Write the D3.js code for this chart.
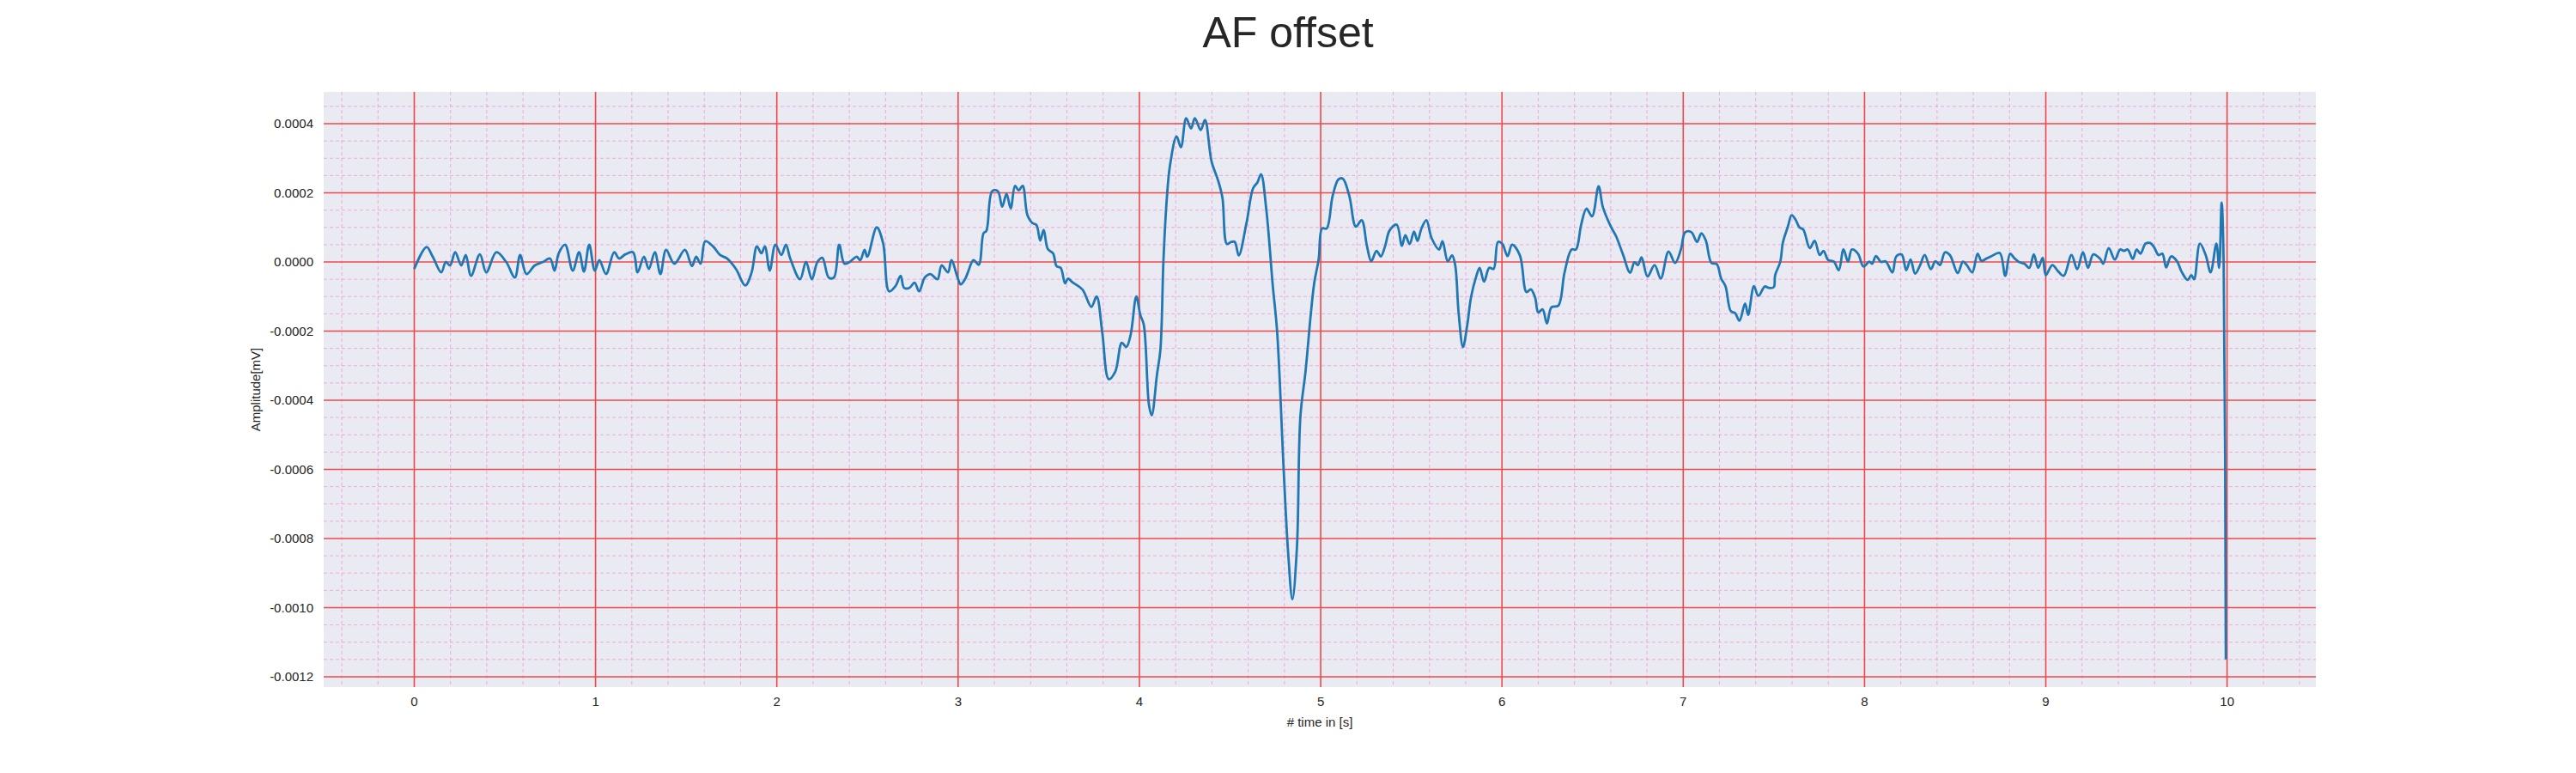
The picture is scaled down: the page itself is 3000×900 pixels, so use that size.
<!DOCTYPE html>
<html><head><meta charset="utf-8">
<script src="https://cdn.jsdelivr.net/npm/d3@7"></script>
<style>body{margin:0;background:#fff}svg{display:block}</style>
</head><body>
<script>
// data in units of 1e-4 mV
const times = [0,.068,.101,.149,.174,.197,.226,.259,.284,.313,.362,.397,.453,.507,.555,.584,.619,.665,.710,.749,.774,.797,.832,.874,.909,.936,.965,.996,1.021,1.058,1.103,1.130,1.164,1.207,1.232,1.267,1.294,1.327,1.358,1.389,1.435,1.493,1.532,1.555,1.580,1.605,1.648,1.687,1.725,1.774,1.826,1.861,1.890,1.915,1.934,1.961,1.992,2.025,2.050,2.074,2.128,2.161,2.193,2.224,2.251,2.286,2.315,2.344,2.373,2.402,2.441,2.460,2.484,2.499,2.551,2.586,2.619,2.654,2.683,2.702,2.731,2.760,2.785,2.816,2.847,2.886,2.909,2.944,2.963,
3.000,3.014,3.038,3.054,3.085,3.114,3.140,3.156,3.188,3.219,3.243,3.267,3.290,3.314,3.334,3.356,3.382,3.409,3.432,3.453,3.472,3.495,3.524,3.543,3.566,3.590,3.606,3.629,
3.686,3.735,3.764,3.795,3.831,3.867,3.903,3.928,3.952,3.983,4.005,4.024,4.053,4.068,4.097,4.116,4.133,4.150,4.169,4.205,4.229,4.258,4.285,4.306,4.338,4.362,4.398,4.434,4.458,4.483,4.507,4.526,4.548,4.591,4.627,4.651,4.671,4.700,4.736,4.760,4.796,4.820,4.844,4.869,4.888,4.917,4.946,4.965,4.989,5.008,5.033,5.066,5.098,5.122,5.158,5.194,5.226,5.255,5.279,5.308,5.332,5.356,5.380,5.419,5.448,5.467,5.491,5.515,5.534,5.556,5.583,5.612,5.653,5.672,5.701,5.725,5.742,5.761,5.785,5.809,5.829,5.858,5.877,5.901,5.930,5.954,5.978,6.002,6.031,6.056,6.099,6.135,6.159,6.183,6.200,6.224,6.248,6.273,6.311,6.345,6.384,6.408,6.437,6.466,6.497,6.533,6.557,6.601,6.630,6.666,6.707,6.731,6.750,6.770,6.803,6.842,6.876,6.919,6.955,6.987,7.011,7.045,7.076,7.100,7.124,7.156,7.185,7.209,7.233,7.262,7.286,7.310,7.341,7.358,7.390,7.414,
7.450,7.471,7.499,7.507,7.535,7.550,7.577,7.598,7.619,7.641,7.662,7.698,7.725,7.753,7.774,7.799,7.831,7.858,7.884,7.909,7.930,7.964,7.994,8.027,8.042,8.063,8.091,8.116,8.154,8.175,8.205,8.230,8.254,8.279,8.307,8.332,8.366,8.391,8.416,8.444,8.471,8.514,8.543,8.564,8.594,8.624,8.645,8.670,8.698,8.746,8.776,8.803,8.825,8.852,8.882,8.909,8.934,8.958,8.983,9.000,9.036,9.068,9.099,9.142,9.173,9.205,9.233,9.262,9.300,9.317,9.347,9.381,9.410,9.431,9.452,9.480,9.501,9.522,9.550,9.575,9.596,9.622,9.643,9.664,9.691,9.723,9.748,9.782,9.803,9.818,9.850,9.882,9.909,9.941,9.956,9.970,9.981,9.993];
const values = [-0.2,0.43,0.16,-0.3,0,-0.1,0.28,-0.1,0.2,-0.4,0.22,-0.3,0.28,0,-0.45,0.2,-0.35,-0.1,0,0.1,-0.25,0.25,0.5,-0.25,0.28,-0.28,0.5,-0.25,0.05,-0.35,0.28,0.1,0.22,0.28,-0.3,0.15,-0.2,0.28,-0.35,0.35,-0.05,0.35,-0.12,0.15,-0.05,0.6,0.45,0.2,0.1,-0.2,-0.68,-0.3,0.45,0.25,0.45,-0.25,0.5,0.2,0.5,0.1,-0.5,0,-0.5,0,0.12,-0.45,-0.45,0.5,-0.05,0,0.15,0.05,0.35,0.15,1.0,0.55,-0.85,-0.7,-0.4,-0.75,-0.75,-0.6,-0.85,-0.45,-0.35,-0.5,-0.1,-0.3,0.05,
-0.5,-0.65,-0.5,-0.3,0.05,-0.08,0.83,0.9,2.05,2.05,1.6,1.97,1.55,2.2,2.07,2.2,1.36,1.13,1.07,0.62,0.93,0.37,0.25,-0.12,-0.17,-0.62,-0.48,-0.58,
-0.8,-1.3,-1.0,-2.03,-3.39,-3.17,-2.34,-2.46,-2.1,-1.0,-1.53,-1.81,-4.14,-4.44,-3.26,-2.53,0.08,1.74,2.8,3.63,3.32,4.16,3.86,4.16,3.82,4.11,2.91,2.36,1.86,0.52,0.58,0.58,0.19,1.13,2.13,2.3,2.54,1.52,-0.7,-2.03,-6.03,-8.37,-9.76,-8.26,-4.48,-3.14,-1.48,-0.59,0.08,0.97,0.97,1.91,2.39,2.41,1.91,1.02,1.21,0.47,0.02,0.32,0.16,0.47,0.91,1.08,0.47,0.77,0.52,0.88,0.61,0.97,1.21,0.69,0.36,0.6,0.02,0.19,-0.09,-1.48,-2.46,-1.81,-1.03,-0.42,-0.17,-0.57,-0.17,-0.2,0.58,0.52,0.17,0.5,0.19,-0.87,-0.79,-1.03,-1.46,-1.37,-1.78,-1.31,-1.26,-0.31,0.36,0.36,1.08,1.54,1.32,2.19,1.58,1.02,0.74,0.24,-0.31,-0.01,-0.09,0.13,-0.42,-0.09,-0.48,0.3,-0.03,0.36,0.86,0.86,0.58,0.83,0.63,-0.03,-0.06,-0.48,-0.7,-1.42,-1.48,-1.7,-1.2,-1.53,-0.7,-0.98,
-0.71,-0.75,-0.73,-0.38,0,0.57,1.02,1.35,1.23,1.0,0.94,0.4,0.61,0.2,0.32,0.06,0.01,-0.24,0.36,0.01,0.36,0.24,-0.13,0.01,-0.05,0.17,0,0.02,-0.3,0.16,0.22,-0.24,0.07,-0.34,-0.09,0.2,-0.21,0.02,-0.09,0.28,0.2,-0.32,0.01,-0.09,-0.3,0.24,0.03,0.09,0.16,0.26,-0.4,0.24,0.12,0,-0.05,-0.17,0.22,-0.17,0.12,-0.38,-0.09,-0.27,-0.4,0.2,-0.21,0.28,-0.17,0.22,0.09,-0.05,0.4,0.07,0.36,0.32,0.36,0.09,0.36,0.24,0.53,0.55,0.44,0.2,0.24,-0.16,0.16,0.03,-0.27,-0.52,-0.38,-0.5,0.53,0.2,-0.3,0.53,-0.17,1.72,0,-11.5];
const xTicks = [0,1,2,3,4,5,6,7,8,9,10];
const yTicks = [0.0004,0.0002,0,-0.0002,-0.0004,-0.0006,-0.0008,-0.0010,-0.0012];
const yTickLabels = ["0.0004","0.0002","0.0000","-0.0002","-0.0004","-0.0006","-0.0008","-0.0010","-0.0012"];
const title = "AF offset", xLabel = "# time in [s]", yLabel = "Amplitude[mV]";

const W=3000,H=900, L=377,R=2697,T=107,B=800;
const svg=d3.select("body").append("svg").attr("width",W).attr("height",H);
const x=d3.scaleLinear().domain([-0.4995,10.4895]).range([L,R]);
const y=d3.scaleLinear().domain([-0.00123,0.000492]).range([B,T]);
svg.append("rect").attr("x",L).attr("y",T).attr("width",R-L).attr("height",B-T).attr("fill","#eaeaf2");
const g=svg.append("g");
const minX=d3.range(-4,105).map(i=>i/10).filter(v=>Math.round(v*10)%2===0 && Math.round(v*10)%10!==0 && v>x.domain()[0] && v<x.domain()[1]);
const minY=d3.range(-24,10).map(i=>i*0.00005).filter(v=>Math.round(v/0.00005)%4!==0);
g.selectAll(".mx").data(minX).join("line").attr("x1",d=>x(d)).attr("x2",d=>x(d)).attr("y1",T).attr("y2",B)
 .attr("stroke","#f080d0").attr("stroke-opacity",0.6).attr("stroke-width",1).attr("stroke-dasharray","4,3");
g.selectAll(".my").data(minY).join("line").attr("y1",d=>y(d)).attr("y2",d=>y(d)).attr("x1",L).attr("x2",R)
 .attr("stroke","#f080d0").attr("stroke-opacity",0.6).attr("stroke-width",1).attr("stroke-dasharray","4,3");
g.selectAll(".Mx").data(xTicks).join("line").attr("x1",d=>x(d)).attr("x2",d=>x(d)).attr("y1",T).attr("y2",B)
 .attr("stroke","#f04848").attr("stroke-width",1.6);
g.selectAll(".My").data(yTicks).join("line").attr("y1",d=>y(d)).attr("y2",d=>y(d)).attr("x1",L).attr("x2",R)
 .attr("stroke","#f04848").attr("stroke-width",1.6);
const pts=times.map((t,i)=>[t,values[i]*1e-4]);
svg.append("path").datum(pts).attr("fill","none").attr("stroke","#1f77b4").attr("stroke-width",2.8)
 .attr("stroke-linejoin","round").attr("d",d3.line().x(d=>x(d[0])).y(d=>y(d[1])).curve(d3.curveCatmullRom.alpha(0.5)));
const font="Liberation Sans, Arial, sans-serif";
svg.selectAll(".xt").data(xTicks).join("text").attr("x",d=>x(d)).attr("y",B+22).attr("text-anchor","middle")
 .attr("font-family",font).attr("font-size",15).attr("fill","#262626").text(d=>d);
svg.selectAll(".yt").data(yTicks).join("text").attr("x",L-12).attr("y",d=>y(d)).attr("dy","0.35em").attr("text-anchor","end")
 .attr("font-family",font).attr("font-size",15).attr("fill","#262626").text((d,i)=>yTickLabels[i]);
svg.append("text").attr("x",(L+R)/2).attr("y",B+46).attr("text-anchor","middle").attr("font-family",font).attr("font-size",15).attr("fill","#262626").text(xLabel);
svg.append("text").attr("transform",`translate(${L-74},${(T+B)/2}) rotate(-90)`).attr("text-anchor","middle").attr("font-family",font).attr("font-size",15).attr("fill","#262626").text(yLabel);
svg.append("text").attr("x",W/2).attr("y",55).attr("text-anchor","middle").attr("font-family",font).attr("font-size",50).attr("fill","#262626").text(title);
</script>
</body></html>
